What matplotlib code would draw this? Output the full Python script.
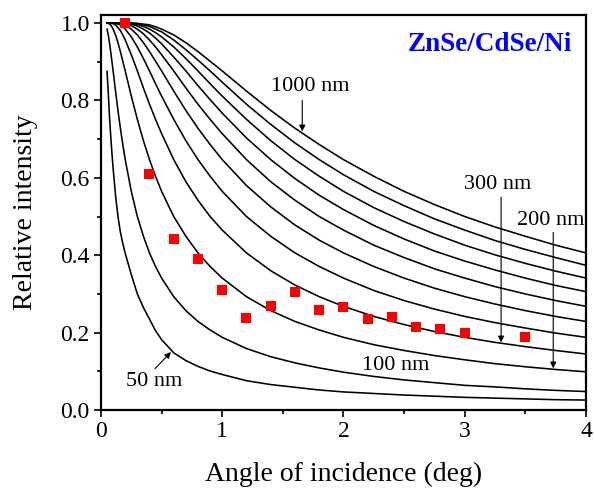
import matplotlib
matplotlib.use("Agg")
import matplotlib.pyplot as plt
from matplotlib.ticker import MultipleLocator

plt.rcParams['font.family'] = ['Liberation Serif', 'DejaVu Serif']

# angle grid (deg) used when reading the simulated curves off the figure
angle = [0.05, 0.06, 0.07, 0.08, 0.09, 0.1, 0.12, 0.14, 0.16, 0.18, 0.2, 0.25,
         0.3, 0.35, 0.4, 0.45, 0.5, 0.6, 0.7, 0.8, 0.9, 1.0, 1.2, 1.4, 1.6, 1.8,
         2.0, 2.25, 2.5, 2.75, 3.0, 3.25, 3.5, 3.75, 4.0]

# relative intensity for each film thickness
curve_50 = [0.875, 0.82, 0.76, 0.71, 0.665, 0.625, 0.555, 0.50, 0.46, 0.43, 0.405, 0.35,
            0.30, 0.265, 0.235, 0.205, 0.182, 0.148, 0.128, 0.113, 0.101, 0.092, 0.076,
            0.066, 0.059, 0.052, 0.047, 0.043, 0.039, 0.036, 0.033, 0.031, 0.029, 0.027, 0.026]
curve_100 = [0.984, 0.969, 0.949, 0.926, 0.901, 0.876, 0.824, 0.774, 0.728, 0.686, 0.647, 0.565,
             0.500, 0.449, 0.406, 0.371, 0.341, 0.293, 0.257, 0.229, 0.207, 0.188, 0.159,
             0.138, 0.122, 0.109, 0.098, 0.087, 0.078, 0.071, 0.064, 0.060, 0.055, 0.051, 0.048]
curve_200 = [1.0, 0.999, 0.997, 0.995, 0.990, 0.984, 0.969, 0.949, 0.926, 0.901, 0.876, 0.811,
             0.751, 0.696, 0.647, 0.604, 0.565, 0.500, 0.449, 0.406, 0.371, 0.341, 0.293,
             0.257, 0.229, 0.207, 0.188, 0.169, 0.154, 0.141, 0.130, 0.120, 0.112, 0.105, 0.099]
curve_300 = [1.0, 1.0, 1.0, 1.0, 0.999, 0.998, 0.995, 0.988, 0.980, 0.969, 0.956, 0.918,
             0.876, 0.832, 0.790, 0.751, 0.714, 0.647, 0.590, 0.542, 0.500, 0.465, 0.406,
             0.360, 0.323, 0.293, 0.268, 0.242, 0.221, 0.203, 0.188, 0.175, 0.164, 0.154, 0.145]
curve_400 = [1.0, 1.0, 1.0, 1.0, 1.0, 1.0, 0.999, 0.997, 0.995, 0.990, 0.984, 0.964,
             0.938, 0.908, 0.876, 0.843, 0.811, 0.751, 0.696, 0.647, 0.604, 0.565, 0.500,
             0.449, 0.406, 0.371, 0.341, 0.309, 0.283, 0.261, 0.242, 0.226, 0.212, 0.199, 0.188]
curve_500 = [1.0, 1.0, 1.0, 1.0, 1.0, 1.0, 1.0, 0.999, 0.999, 0.997, 0.995, 0.984,
             0.969, 0.949, 0.926, 0.901, 0.876, 0.824, 0.774, 0.728, 0.686, 0.647, 0.580,
             0.525, 0.478, 0.439, 0.406, 0.371, 0.341, 0.315, 0.293, 0.274, 0.257, 0.242, 0.229]
curve_600 = [1.0, 1.0, 1.0, 1.0, 1.0, 1.0, 1.0, 1.0, 1.0, 0.999, 0.998, 0.993,
             0.984, 0.972, 0.956, 0.938, 0.918, 0.876, 0.832, 0.790, 0.751, 0.714, 0.647,
             0.590, 0.542, 0.500, 0.465, 0.426, 0.394, 0.365, 0.341, 0.319, 0.300, 0.283, 0.268]
curve_700 = [1.0, 1.0, 1.0, 1.0, 1.0, 1.0, 1.0, 1.0, 1.0, 1.0, 0.999, 0.997,
             0.992, 0.984, 0.974, 0.961, 0.946, 0.912, 0.876, 0.838, 0.802, 0.767, 0.703,
             0.647, 0.598, 0.555, 0.518, 0.477, 0.442, 0.411, 0.385, 0.362, 0.341, 0.322, 0.306]
curve_800 = [1.0, 1.0, 1.0, 1.0, 1.0, 1.0, 1.0, 1.0, 1.0, 1.0, 1.0, 0.999,
             0.996, 0.991, 0.984, 0.975, 0.964, 0.938, 0.908, 0.876, 0.843, 0.811, 0.751,
             0.696, 0.647, 0.604, 0.565, 0.523, 0.487, 0.455, 0.426, 0.401, 0.379, 0.359, 0.341]
curve_900 = [1.0, 1.0, 1.0, 1.0, 1.0, 1.0, 1.0, 1.0, 1.0, 1.0, 1.0, 0.999,
             0.998, 0.995, 0.991, 0.984, 0.977, 0.956, 0.931, 0.904, 0.876, 0.847, 0.790,
             0.738, 0.690, 0.647, 0.608, 0.565, 0.528, 0.494, 0.465, 0.438, 0.415, 0.394, 0.374]
curve_1000 = [1.0, 1.0, 1.0, 1.0, 1.0, 1.0, 1.0, 1.0, 1.0, 1.0, 1.0, 1.0,
              0.999, 0.997, 0.995, 0.990, 0.984, 0.969, 0.949, 0.926, 0.901, 0.876, 0.824,
              0.774, 0.728, 0.686, 0.647, 0.604, 0.565, 0.531, 0.500, 0.473, 0.449, 0.426, 0.406]

# measured points (red squares)
exp_angle = [0.2, 0.4, 0.6, 0.8, 1.0, 1.2, 1.4, 1.6, 1.8, 2.0, 2.2, 2.4, 2.6, 2.8, 3.0, 3.5]
exp_int = [1.0, 0.611, 0.443, 0.391, 0.309, 0.238, 0.268, 0.304, 0.259, 0.266,
           0.235, 0.241, 0.215, 0.209, 0.198, 0.188]

curves = [curve_50, curve_100, curve_200, curve_300, curve_400, curve_500,
          curve_600, curve_700, curve_800, curve_900, curve_1000]

fig = plt.figure(figsize=(5.94, 4.90), dpi=100)
ax = fig.add_axes([0.170, 0.163, 0.8165, 0.806])

for c in curves:
    ax.plot(angle, c, color='black', linewidth=1.15, solid_joinstyle='round')

ax.plot(exp_angle, exp_int, linestyle='none', marker='s', markersize=6.5,
        color='#ff0000', markeredgewidth=0)

ax.set_xlim(0, 4)
ax.set_ylim(0, 1.02)
ax.xaxis.set_major_locator(MultipleLocator(1))
ax.xaxis.set_minor_locator(MultipleLocator(0.5))
ax.yaxis.set_major_locator(MultipleLocator(0.2))
ax.yaxis.set_minor_locator(MultipleLocator(0.1))
ax.yaxis.set_major_formatter(plt.FormatStrFormatter('%.1f'))

ax.tick_params(which='both', direction='out', width=1.2, labelsize=17, pad=3)
ax.tick_params(which='major', length=5)
ax.tick_params(which='minor', length=3)
for s in ax.spines.values():
    s.set_linewidth(1.6)

ax.set_xlabel('Angle of incidence (deg)', fontsize=20, labelpad=14)
ax.set_ylabel('Relative intensity', fontsize=20, labelpad=16)

arrow = dict(arrowstyle='-|>', color='black', lw=0.8, mutation_scale=9,
             shrinkA=0, shrinkB=0)
ax.text(1.73, 0.836, '1000 nm', fontsize=16, ha='center', va='center')
ax.annotate('', xy=(1.66, 0.72), xytext=(1.66, 0.80), arrowprops=arrow)
ax.text(3.27, 0.583, '300 nm', fontsize=16, ha='center', va='center')
ax.annotate('', xy=(3.30, 0.175), xytext=(3.30, 0.55), arrowprops=arrow)
ax.text(3.71, 0.49, '200 nm', fontsize=16, ha='center', va='center')
ax.annotate('', xy=(3.73, 0.108), xytext=(3.73, 0.459), arrowprops=arrow)
ax.text(2.43, 0.114, '100 nm', fontsize=16, ha='center', va='center')
ax.text(0.44, 0.075, '50 nm', fontsize=16, ha='center', va='center')
ax.annotate('', xy=(0.577, 0.150), xytext=(0.445, 0.107), arrowprops=arrow)

ax.text(3.21, 0.944, 'ZnSe/CdSe/Ni', fontsize=19.5, fontweight='bold',
        color='#0000ff', ha='center', va='center')

fig.savefig('out.png', dpi=100)
